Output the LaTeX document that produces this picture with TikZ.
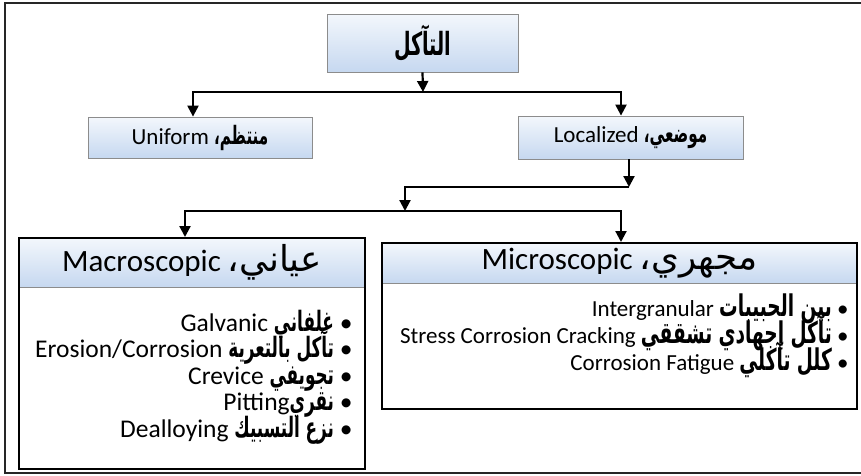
\documentclass[tikz,border=0pt]{standalone}
\usepackage{fontspec}
\setmainfont{Carlito}
\newfontfamily\arfont[Script=Arabic,Scale=1.1,FakeStretch=0.6]{DejaVu Sans}
\newfontfamily\arwfont[Script=Arabic,Scale=1.3,FakeStretch=0.62]{DejaVu Sans}
\newfontfamily\arhfont[Script=Arabic,Scale=1.15]{DejaVu Sans}
\TeXXeTstate=1
\lineskiplimit=-100pt
\usetikzlibrary{arrows.meta}
\definecolor{boxtop}{RGB}{243,247,252}
\definecolor{boxbot}{RGB}{198,216,240}
\definecolor{boxedge}{RGB}{140,140,140}
\newcommand{\arb}[1]{{\arfont\bfseries #1}}
\newcommand{\arbw}[1]{{\arwfont\bfseries #1}}

\begin{document}
\begin{tikzpicture}[x=1pt,y=-1pt,
  smallbox/.style={draw=boxedge,line width=0.8pt,top color=boxtop,bottom color=boxbot,inner sep=0pt},
  hdr/.style={draw=boxedge,line width=0.8pt,top color=boxtop,bottom color=boxbot,inner sep=0pt},
  bigbox/.style={draw=black,line width=2pt,inner sep=0pt},
  arr/.style={line width=2.2pt,-{Triangle[length=11pt,width=11pt]}}]
\useasboundingbox (0,0) rectangle (861,475);
\draw[line width=1.5pt,draw=black!85] (861,3) -- (5,3) -- (5,473) -- (861,473);

% top level
\node[smallbox,minimum width=191,minimum height=58,font=\fontsize{29}{34}\selectfont] (top) at (422.5,43) {\arb{التآكل}};
\node[smallbox,minimum width=224,minimum height=41,font=\fontsize{23}{27}\selectfont] (uni) at (200,137.5) {\beginR\arb{منتظم،} \beginL Uniform\endL\endR};
\node[smallbox,minimum width=225,minimum height=43,font=\fontsize{23}{27}\selectfont] (loc) at (630.5,137.5) {\beginR\arb{موضعي،} \beginL Localized\endL\endR};

% macroscopic box
\node[hdr,minimum width=346,minimum height=49,font=\fontsize{31}{36}\selectfont] (macrohd) at (192,262.5) {\beginR{\arhfont عياني،} \beginL Macroscopic\endL\endR};
\node[bigbox,minimum width=346,minimum height=231] (macro) at (192,353.5) {};
\node[anchor=east,align=right,font=\fontsize{25.5}{26.5}\selectfont] (macrolist) at (356,377) {%
  \beginR• \arb{غلفاني} \beginL Galvanic\endL\endR\\
  \beginR• \arb{تآكل بالتعرية} \beginL Erosion/Corrosion\endL\endR\\
  \beginR• \arb{تجويفي} \beginL Crevice\endL\endR\\
  \beginR• \arb{نقري}\beginL Pitting\endL\endR\\
  \beginR• \arb{نزع التسبيك} \beginL Dealloying\endL\endR};

% microscopic box
\node[hdr,minimum width=475,minimum height=40,font=\fontsize{31}{36}\selectfont] (microhd) at (619.5,263) {\beginR{\arhfont مجهري،} \beginL Microscopic\endL\endR};
\node[bigbox,minimum width=475,minimum height=166] (micro) at (619.5,326) {};
\node[anchor=east,align=right,font=\fontsize{23}{27}\selectfont] (microlist) at (852,336) {%
  \beginR• \arbw{بين الحبيبات} \beginL Intergranular\endL\endR\\
  \beginR• \arbw{تآكل إجهادي تشققي} \beginL Stress Corrosion Cracking\endL\endR\\
  \beginR• \arbw{كلل تآكلي} \beginL Corrosion Fatigue\endL\endR};

% connectors
\coordinate (j1) at (423,92);
\coordinate (j2) at (629,187);
\coordinate (j3) at (405,211);
\draw[arr] (top.south) -- (j1);
\draw[arr] (j1) -| ([xshift=-7pt]uni.north);
\draw[arr] (j1) -| ([xshift=-9.5pt]loc.north);
\draw[arr] ([xshift=-1.5pt]loc.south) -- (j2);
\draw[arr] (j2) -| (j3);
\draw[arr] (j3) -| ([xshift=-7pt]macro.north);
\draw[arr] (j3) -| ([xshift=1.5pt]micro.north);
\end{tikzpicture}
\end{document}
